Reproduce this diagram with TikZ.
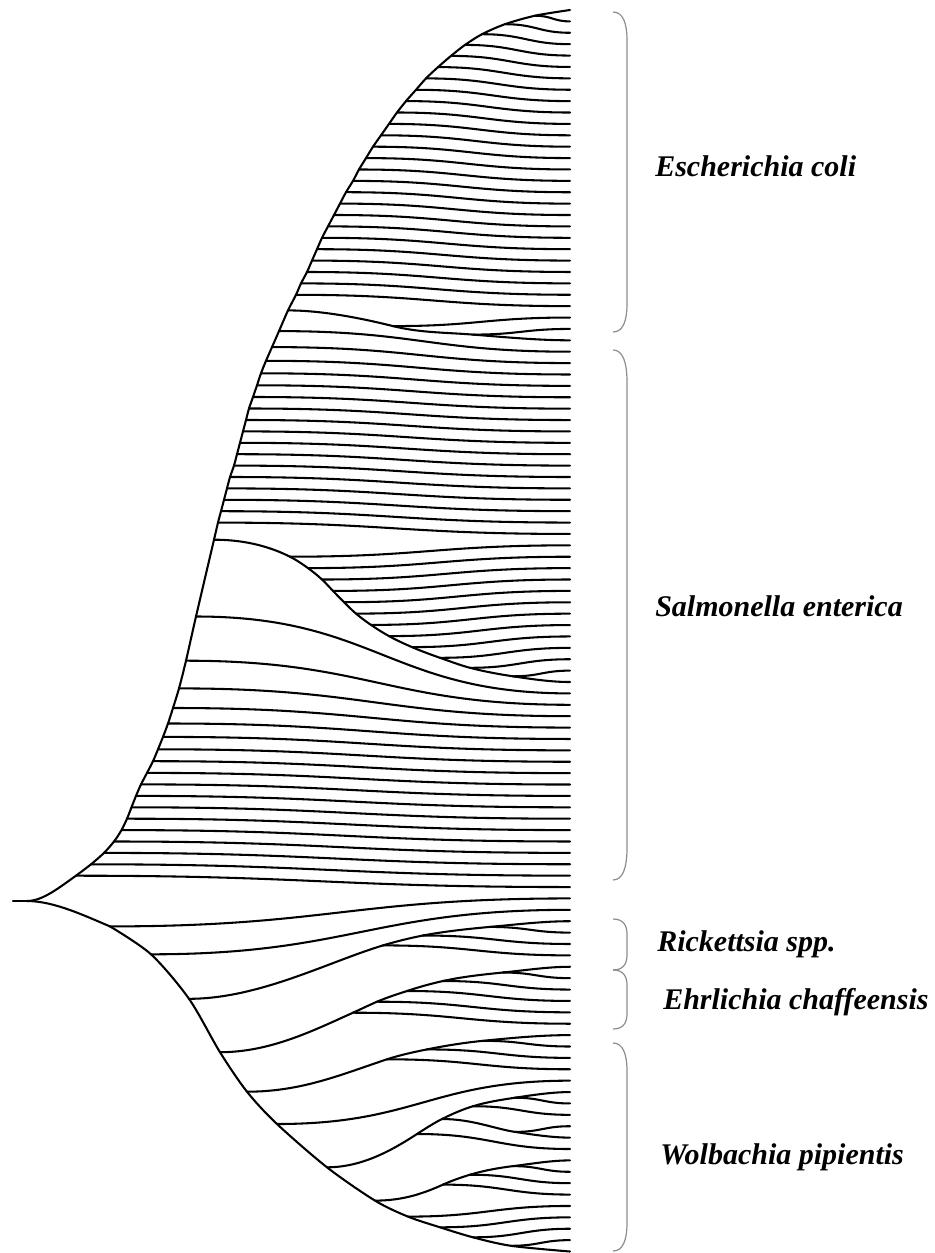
\documentclass[tikz,border=0pt]{standalone}
\usepackage{fontspec}
\setmainfont{Liberation Serif}
\usetikzlibrary{calc}
\tikzset{
  tree/.style={line width=1.55pt, line cap=round, line join=round},
  branch/.style={out=0,in=180,looseness=1.2},
  bracket/.style={draw=black!45, line width=0.9pt},
  taxon/.style={anchor=base west, inner sep=0pt, font=\fontsize{22.5}{27}\selectfont\bfseries\itshape},
}
% chain segment: from, to, d1, slope1, d2, slope2 (slopes in image coords, y down)
\newcommand\seg[6]{\draw[tree] (#1) .. controls +({#3},{(#3)*(#4)}) and +({-(#5)},{-(#5)*(#6)}) .. (#2);}
\newcommand\clbracket[3]{\draw[bracket] (613,#1) .. controls (623,#1) and (627,{#1+#3*0.4}) .. (627,{#1+#3}) -- (627,{#2-#3}) .. controls (627,{#2-#3*0.4}) and (623,#2) .. (613,#2);}
\begin{document}
\begin{tikzpicture}[x=0.75pt,y=-0.75pt]
\useasboundingbox (0,0) rectangle (935,1253);
% leaves
\foreach \i in {0,...,109} \coordinate (l\i) at (570,{10+11.39*\i});
\coordinate (R0) at (13,901);
\coordinate (R) at (27,901);
% upper backbone nodes
\foreach \nm/\xx/\yy in {n1/535/15.7, n2/505/24.2, n3/482/34.2, n4/465/44.9, n5/451/55.9, n6/438/67.1, n7/426/78.4, n8/416/89.8, n9/406/101.1, n10/397/112.5, n11/389/123.9, n12/381/135.3, n13/373/146.7, n14/366/158.1, n15/359/169.5, n16/353/180.9, n17/346/192.2, n18/340/203.6, n19/334/215.0, n20/328/226.4, n21/322/237.8, n22/317/249.2, n23/312/260.6, n24/307/272.0, n25/301/283.4, n26/296/294.8, nX/288/310.4, n30/279/331.1, n31/272/347.1, n32/266/360.8, n33/261/373.3, n34/257/385.3, n35/253/397.0, n36/249/408.5, n37/246/420.0, n38/243/431.4, n39/240/442.8, n40/237/454.2, n41/234/465.6, n42/230/477.0, n43/227/488.4, n44/224/499.8, n45/221/511.2, n46/218/522.6, Z/214/539.7, n60/196/616.5, n61/186/660.7, n62/179/688.4, n63/173/708.0, n64/168/723.5, n65/163/736.9, n66/158/749.3, n67/153/761.2, n68/147/772.9, n69/141/784.4, n70/136/795.9, n71/131.5/807.3, n72/127/818.7, n73/121.5/830.1, n74/114/841.5, n75/104/852.9, n76/91/864.3, n77/76/875.7}
  \coordinate (\nm) at (\xx,\yy);
% subtrees of the upper clade
\foreach \nm/\xx/\yy in {X/393/326.1, Y/473/334.6, m47/290/556.7, m48/308/568.1, m49/322/579.5, m50/333/590.9, m51/344/602.2, m52/356/613.6, m53/371/624.9, m54/389/636.1, m55/412/647.1, m56/440/657.8, m57/470/667.8, m58/513/676.3}
  \coordinate (\nm) at (\xx,\yy);
% lower clade nodes
\foreach \nm/\xx/\yy in {b1/110/926.4, b2/151/954.3, b3/189/998.8, b4/220/1052.2, b5/247/1091.7, b6/277/1124.0, b7/327/1167.3, b8/375/1200.6, b9/408/1216.6, b10/440/1227.3, b11/473/1237.3, b12/511/1245.8, A/383/945.4, B/423/935.5, C/490/926.9, D/353/1012.7, E/377/1001.7, F/407/991.0, G/443/981.0, H/503/972.5, I/387/1059.3, J/427/1049.4, K/483/1040.8, M/417/1134.0, N/442/1119.0, O/473/1106.2, Q/515/1097.7, P/515/1131.9, S/443/1184.6, T/470/1174.7, U/513/1166.1}
  \coordinate (\nm) at (\xx,\yy);

% root
\draw[tree] (R0) -- (R);
\seg{R}{n77}{16}{0}{16}{-0.7}
\seg{R}{b1}{27}{0}{25}{0.42}

% backbones
\draw[tree] plot[smooth] coordinates {(n77) (n76) (n75) (n74) (n73) (n72) (n71) (n70) (n69) (n68) (n67) (n66) (n65) (n64) (n63) (n62) (n61) (n60) (Z) (n46) (n45) (n44) (n43) (n42) (n41) (n40) (n39) (n38) (n37) (n36) (n35) (n34) (n33) (n32) (n31) (n30) (nX) (n26) (n25) (n24) (n23) (n22) (n21) (n20) (n19) (n18) (n17) (n16) (n15) (n14) (n13) (n12) (n11) (n10) (n9) (n8) (n7) (n6) (n5) (n4) (n3) (n2) (n1) (l0)};
\draw[tree] plot[smooth] coordinates {(b1) (b2) (b3) (b4) (b5) (b6) (b7) (b8) (b9) (b10) (b11) (b12) (l109)};

% side branches of upper clade
\foreach \k in {1,...,26} \draw[tree] (n\k) to[branch] (l\k);
\foreach \k in {30,...,46} \draw[tree] (n\k) to[branch] (l\k);
\foreach \k in {60,...,77} \draw[tree] (n\k) to[branch] (l\k);
\foreach \k in {47,...,58} \draw[tree] (m\k) to[branch] (l\k);
\draw[tree] (X) to[branch] (l27);
\draw[tree] (Y) to[branch] (l28);

% chains of upper clade
\seg{nX}{X}{35}{0}{30}{0.25}
\seg{X}{Y}{27}{0.25}{27}{0.08}
\seg{Y}{l29}{32}{0.08}{32}{0}
\seg{Z}{m47}{25}{0}{25}{0.5}
\seg{m47}{m48}{6}{0.5}{6}{0.72}
\seg{m48}{m49}{4.7}{0.72}{4.7}{0.92}
\seg{m49}{m50}{3.7}{0.92}{3.7}{1.03}
\seg{m50}{m51}{3.7}{1.03}{3.7}{0.99}
\seg{m51}{m52}{4}{0.99}{4}{0.85}
\seg{m52}{m53}{5}{0.85}{5}{0.68}
\seg{m53}{m54}{6}{0.68}{6}{0.55}
\seg{m54}{m55}{7.7}{0.55}{7.7}{0.43}
\seg{m55}{m56}{9.3}{0.43}{9.3}{0.35}
\seg{m56}{m57}{10}{0.35}{10}{0.26}
\seg{m57}{m58}{14.3}{0.26}{14.3}{0.15}
\seg{m58}{l59}{19}{0.15}{19}{0}

% side branches of lower clade
\foreach \a/\b in {b1/l78, b2/l79, A/l83, B/l82, C/l81, D/l89, E/l88, F/l87, G/l86, H/l85, I/l93, J/l92, K/l91, b6/l94, M/l100, O/l97, Q/l96, P/l98, S/l104, T/l103, U/l102, b9/l105, b10/l106, b11/l107, b12/l108}
  \draw[tree] (\a) to[branch] (\b);

% chains of lower clade
\seg{b3}{A}{70}{0}{55}{-0.3}
\seg{A}{B}{13}{-0.3}{13}{-0.19}
\seg{B}{C}{22}{-0.19}{22}{-0.09}
\seg{C}{l80}{27}{-0.09}{27}{0}
\seg{b4}{D}{50}{0}{40}{-0.45}
\seg{D}{E}{8}{-0.45}{8}{-0.43}
\seg{E}{F}{10}{-0.43}{10}{-0.33}
\seg{F}{G}{12}{-0.33}{12}{-0.22}
\seg{G}{H}{20}{-0.22}{20}{-0.1}
\seg{H}{l84}{22}{-0.1}{22}{0}
\seg{b5}{I}{55}{0}{45}{-0.33}
\seg{I}{J}{13}{-0.33}{13}{-0.2}
\seg{J}{K}{19}{-0.2}{19}{-0.1}
\seg{K}{l90}{29}{-0.1}{29}{0}
\seg{b7}{M}{35}{0}{25}{-0.65}
\seg{M}{N}{8}{-0.65}{8}{-0.5}
\seg{N}{O}{10}{-0.5}{10}{-0.3}
\seg{O}{Q}{14}{-0.3}{14}{-0.15}
\seg{Q}{l95}{18}{-0.15}{18}{0}
\seg{N}{P}{30}{0}{20}{0.15}
\seg{P}{l99}{18}{0.15}{18}{0}
\seg{b8}{S}{28}{0}{20}{-0.45}
\seg{S}{T}{9}{-0.45}{9}{-0.3}
\seg{T}{U}{14}{-0.3}{14}{-0.12}
\seg{U}{l101}{19}{-0.12}{19}{0}

% brackets
\clbracket{12}{332}{28}
\clbracket{350}{880}{32}
\clbracket{919}{970}{15}
\clbracket{970}{1029}{15}
\clbracket{1043}{1251}{28}

% labels
\node[taxon] (ecoli) at (655,176) {Escherichia coli};
\node[taxon] (salm) at (655,616) {Salmonella enterica};
\node[taxon] (rick) at (657,951) {Rickettsia spp.};
\node[taxon] (ehr) at (663,1009) {Ehrlichia chaffeensis};
\node[taxon] (wolb) at (660,1164) {Wolbachia pipientis};
\end{tikzpicture}
\end{document}
